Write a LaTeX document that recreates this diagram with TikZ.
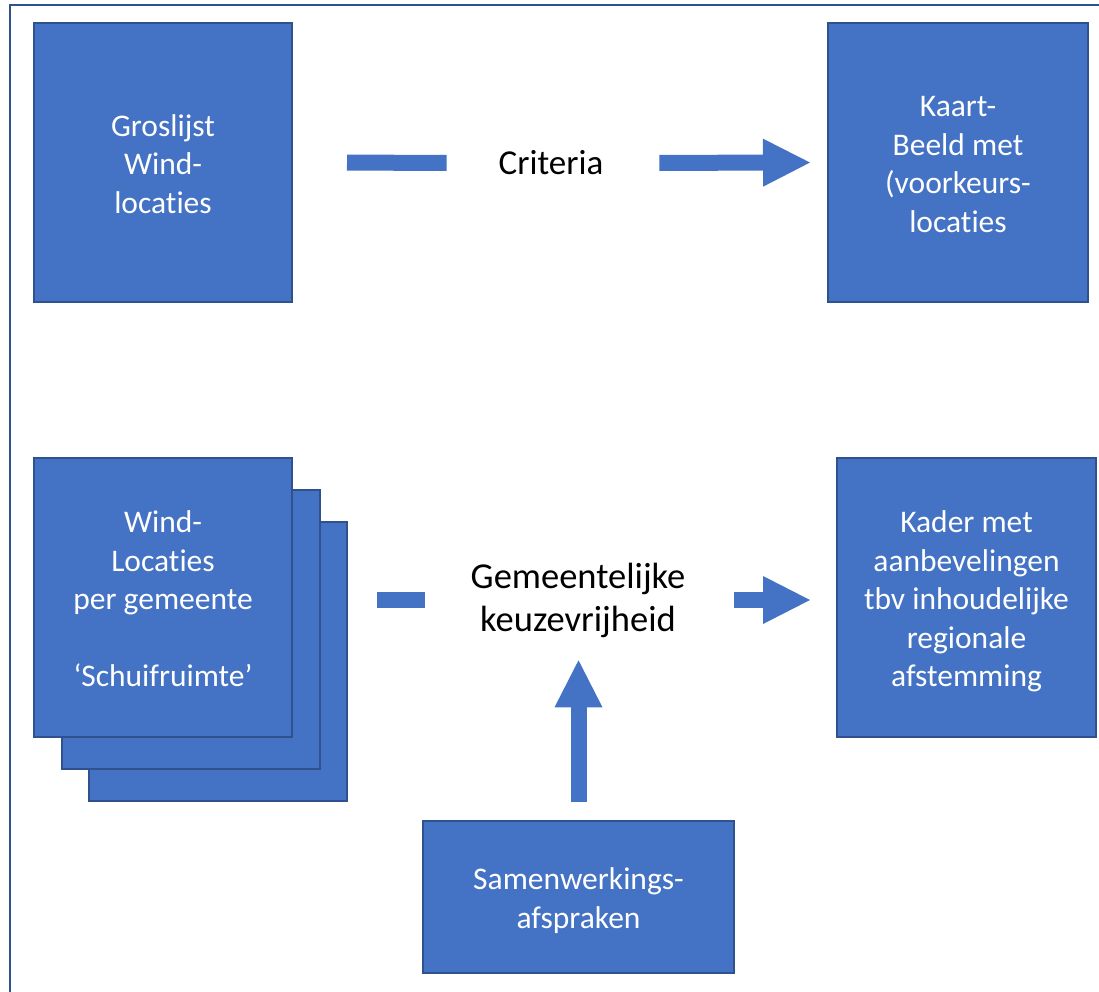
\documentclass[tikz,border=0pt]{standalone}
\usepackage{fontspec}
\setmainfont{Carlito}[Ligatures=NoCommon]
\usetikzlibrary{arrows.meta}
\definecolor{blokvul}{RGB}{68,114,196}
\definecolor{bloklijn}{RGB}{47,82,143}
\newcommand\boven{\rule{0pt}{32pt}}
\newcommand\onder{\rule[-8pt]{0pt}{0pt}}
\tikzset{every picture/.style={line width=0.75pt}}
\tikzset{
  blok/.style={draw=bloklijn, fill=blokvul, line width=2pt, outer sep=0pt, inner sep=0pt,
    minimum width=258pt, minimum height=279pt, align=center, text=white,
    font=\fontsize{31.5}{38.5}\selectfont},
  tekst/.style={inner sep=0pt, outer sep=0pt, align=center, font=\fontsize{35}{43}\selectfont},
  balk/.style={draw=blokvul, line width=16pt},
  pijl/.style={balk, -{Triangle[width=48pt,length=47pt,line width=0pt]}}
}

\begin{document}
\begin{tikzpicture}[x=1pt,y=1pt,yscale=-1,xscale=1]
\useasboundingbox (0,0) rectangle (1099,991);

%Shape: Frame
\draw [color=bloklijn, line width=2.5pt] (10,5) rectangle (1130,1020);

%Shape: Rectangle (top row)
\node [blok] (gros) at (163,162.5) {\boven Groslijst\\Wind-\\locaties\onder};
\node [blok, minimum width=260pt] (kaart) at (958,162.5) {\boven Kaart-\\Beeld met\\(voorkeurs-\\locaties\onder};
% Text Node
\node [tekst, minimum width=104pt] (crit) at (551,163) {Criteria};

%Shape: Rectangle (stack)
\node [blok] (achter) at (218,661.5) {};
\node [blok] (midden) at (190.5,629.5) {};
\node [blok] (voor) at (163,597.5) {\boven Wind-\\Locaties\\per gemeente\\[38.5pt]‘Schuifruimte’\onder};

%Shape: Rectangle (bottom row)
\node [blok, minimum width=259pt] (kader) at (966.5,597.5) {\boven Kader met\\aanbevelingen\\tbv inhoudelijke\\regionale\\afstemming\onder};
\node [blok, minimum width=311pt, minimum height=152pt] (samen) at (578.5,897) {\boven Samenwerkings-\\afspraken\onder};
% Text Node
\node [tekst, minimum width=220pt, font=\fontsize{36.5}{43}\selectfont] (gem) at (578,600) {Gemeentelijke\\keuzevrijheid};

%Block Arrows
\draw [balk, shorten <=55pt, shorten >=52pt] (gros.east) -- (crit.west);
\draw [pijl, shorten <=56pt, shorten >=18pt] (crit.east) -- (kaart.west);
\draw [balk, shorten <=30pt, shorten >=43pt] (achter.east |- gem.west) -- (gem.west);
\draw [pijl, shorten <=46pt, shorten >=27pt] (gem.east) -- (kader.west |- gem.east);
\draw [pijl, shorten <=19pt, shorten >=23pt] (samen.north) -- (samen.north |- gem.south);

\end{tikzpicture}
\end{document}
